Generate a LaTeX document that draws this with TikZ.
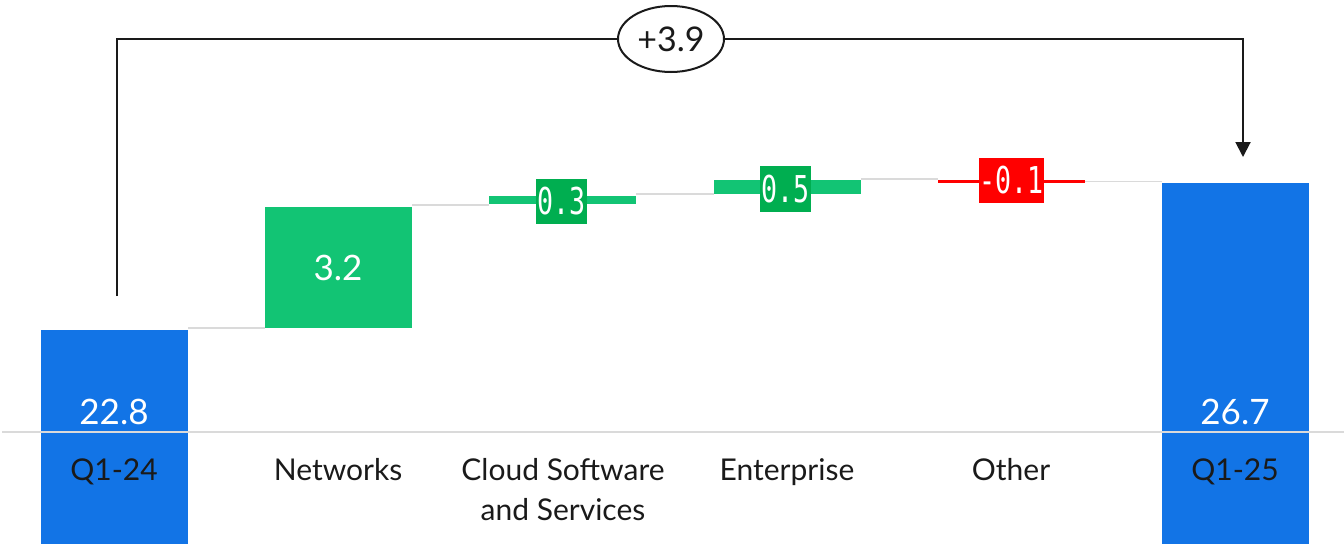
\documentclass[tikz,border=0pt]{standalone}
\usepackage{fontspec}
\setmainfont{Lato}
\newfontfamily\monof[FakeStretch=0.72]{DejaVu Sans Mono}
\usetikzlibrary{arrows.meta,shapes.geometric}
\definecolor{barblue}{HTML}{1274E6}
\definecolor{lgreen}{HTML}{12C474}
\definecolor{dgreen}{HTML}{00AE50}
\definecolor{bred}{HTML}{FF0000}
\definecolor{conn}{HTML}{DADADA}
\definecolor{txt}{HTML}{1A1A1A}
\tikzset{
  bar/.style={inner sep=0pt, outer sep=0pt, anchor=north west, draw=none},
  lbl/.style={inner sep=0pt, anchor=base, text=txt, font=\fontsize{30}{40}\selectfont, align=center},
  val/.style={inner sep=0pt, anchor=base, text=white, font=\fontsize{35}{40}\selectfont},
  tag/.style={inner sep=0pt, text=white, font=\monof\fontsize{37}{40}\selectfont},
  connector/.style={draw=conn, line width=1.5pt},
}
\begin{document}
\begin{tikzpicture}[x=1pt,y=-1pt]
\useasboundingbox (0,0) rectangle (1344,544);
% bars
\node[bar, fill=barblue, minimum width=147pt, minimum height=214pt] (q124) at (41,330) {};
\node[bar, fill=lgreen, minimum width=147pt, minimum height=121pt] (net) at (265,207) {};
\node[bar, fill=lgreen, minimum width=147pt, minimum height=8pt] (cloud) at (489,196) {};
\node[bar, fill=lgreen, minimum width=147pt, minimum height=14pt] (ent) at (714,180) {};
\node[bar, fill=bred, minimum width=147pt, minimum height=2.5pt] (oth) at (938,180) {};
\node[bar, fill=barblue, minimum width=147pt, minimum height=361pt] (q125) at (1162,183) {};
% connectors
\coordinate (c0) at (188,328);
\coordinate (c1) at (412,205);
\coordinate (c2) at (636,194);
\coordinate (c3) at (861,179);
\draw[connector] (c0) -- (net.west |- c0);
\draw[connector] (c1) -- (cloud.west |- c1);
\draw[connector] (c2) -- (ent.west |- c2);
\draw[connector] (c3) -- (oth.west |- c3);
\draw[connector] (oth.east) -- (q125.north west |- oth.east);
% axis line
\coordinate (axl) at (2,432);
\coordinate (axr) at (1344,432);
\draw[draw=conn, line width=2pt] (axl) -- (axr);
% tags
\node[tag, fill=dgreen, minimum width=51pt, minimum height=45pt] (t1) at (561.5,201.5) {0.3};
\node[tag, fill=dgreen, minimum width=51pt, minimum height=46pt] (t2) at (785.5,189) {0.5};
\node[tag, fill=bred, minimum width=65pt, minimum height=45pt] (t3) at (1011.5,180.5) {-0.1};
% values
\node[val] (v1) at (114,424) {22.8};
\node[val] (v2) at (338,280) {3.2};
\node[val] (v3) at (1235,424) {26.7};
% labels
\node[lbl] (l1) at (114,480) {Q1-24};
\node[lbl] (l2) at (338,480) {Networks};
\node[lbl] (l3) at (563,520) {Cloud Software\\and Services};
\node[lbl] (l4) at (787,480) {Enterprise};
\node[lbl] (l5) at (1011,480) {Other};
\node[lbl] (l6) at (1235,480) {Q1-25};
% bracket
\coordinate (bs) at (117,296);
\coordinate (be) at (1243,157);
\node[ellipse, draw=txt, line width=2pt, fill=white, minimum width=106pt, minimum height=66pt, inner sep=0pt, text=txt, font=\fontsize{34}{38}\selectfont] (tot) at (671,39) {+3.9};
\draw[txt, line width=2pt] (bs) -- (bs |- tot.west) -- (tot.west);
\draw[txt, line width=2pt, -{Triangle[length=15pt,width=15pt]}] (tot.east) -- (be |- tot.east) -- (be);
\end{tikzpicture}
\end{document}
